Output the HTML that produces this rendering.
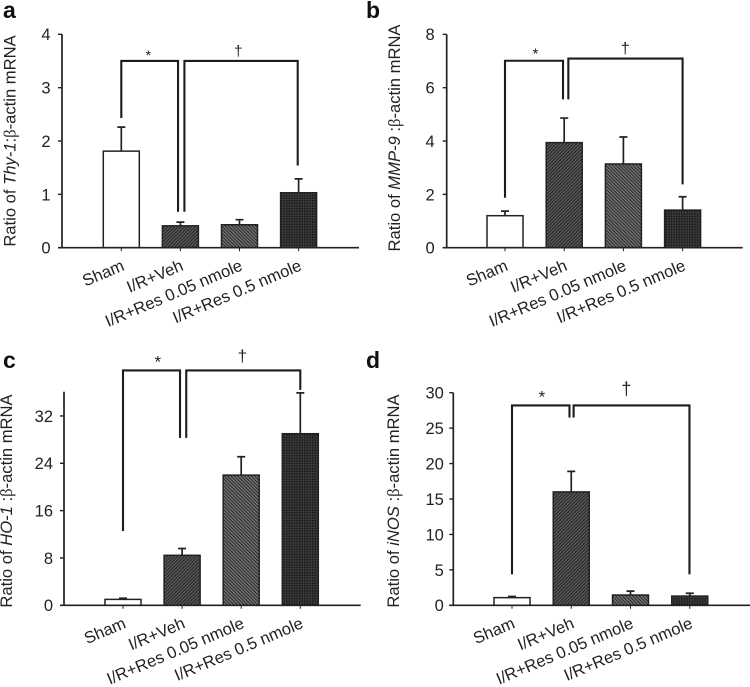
<!DOCTYPE html>
<html>
<head>
<meta charset="utf-8">
<style>
html,body{margin:0;padding:0;background:#fff;width:750px;height:687px;overflow:hidden}
svg{display:block;font-family:"Liberation Sans",sans-serif;fill:#222}
</style>
</head>
<body>
<svg id="figure" width="750" height="687" viewBox="0 0 750 687" xmlns="http://www.w3.org/2000/svg">
<defs>
<pattern id="hatch-veh" width="2.4" height="2.4" patternUnits="userSpaceOnUse" patternTransform="rotate(-45)"><rect width="2.4" height="2.4" fill="#606060"/><rect width="2.4" height="1.2" fill="#262626"/></pattern>
<pattern id="hatch-low" width="2.4" height="2.4" patternUnits="userSpaceOnUse" patternTransform="rotate(45)"><rect width="2.4" height="2.4" fill="#787878"/><rect width="2.4" height="1.1" fill="#2a2a2a"/></pattern>
<pattern id="dots-high" width="2.6" height="2.6" patternUnits="userSpaceOnUse"><rect width="2.6" height="2.6" fill="#3a3a3a"/><rect width="1.4" height="1.4" fill="#111"/></pattern>
</defs>
</svg>
<script>
// Shared categories
const categories = ['Sham', 'I/R+Veh', 'I/R+Res 0.05 nmole', 'I/R+Res 0.5 nmole'];

// Panel a: Thy-1
const aValues = [1.81, 0.41, 0.43, 1.03];
const aErrors = [2.26, 0.48, 0.525, 1.29];
const aTicks = [0, 1, 2, 3, 4];
const aStarLevels = [3.5, 3.5];
const aLegEnds = [2.43, 0.675, 0.675, 1.54];

// Panel b: MMP-9
const bValues = [1.2, 3.94, 3.14, 1.41];
const bErrors = [1.37, 4.86, 4.15, 1.91];
const bTicks = [0, 2, 4, 6, 8];
const bStarLevels = [7.01, 7.09];
const bLegEnds = [1.875, 5.56, 5.56, 2.375];

// Panel c: HO-1
const cValues = [1.0, 8.45, 22, 29];
const cErrors = [1.2, 9.6, 25.1, 35.9];
const cTicks = [0, 8, 16, 24, 32];
const cStarLevels = [39.7, 39.7];
const cLegEnds = [12.56, 28.3, 28.3, 36.4];

// Panel d: iNOS
const dValues = [1.08, 16, 1.45, 1.3];
const dErrors = [1.25, 18.9, 2.0, 1.7];
const dTicks = [0, 5, 10, 15, 20, 25, 30];
const dStarLevels = [28.2, 28.2];
const dLegEnds = [4.37, 26.5, 26.5, 4.37];

const fills = ['#fff', 'url(#hatch-veh)', 'url(#hatch-low)', 'url(#dots-high)'];
const NS = 'http://www.w3.org/2000/svg';
const root = document.getElementById('figure');

function make(tag, attrs, parent, text) {
  const el = document.createElementNS(NS, tag);
  for (const k in attrs) el.setAttribute(k, attrs[k]);
  if (text !== undefined) el.textContent = text;
  parent.appendChild(el);
  return el;
}

const panels = [
  {id:'a', gene:'Thy-1', sep:':', values:aValues, errors:aErrors, ticks:aTicks, levels:aStarLevels, legs:aLegEnds,
   axisX:62, y0:247.7, pxPerUnit:53.35, top:4, x0:121.3, step:59.1, xEnd:359,
   letterX:3, letterY:18, titleX:15.5, titleY:141, tickOff:11.5, starSize:14, daggerSize:15,
   bx:[0, 0.96, 1.068, 2.985], star:[0.458, 3.52], dagger:[1.98, 3.59]},
  {id:'b', gene:'MMP-9', sep:' :', values:bValues, errors:bErrors, ticks:bTicks, levels:bStarLevels, legs:bLegEnds,
   axisX:446.7, y0:247.7, pxPerUnit:26.67, top:8, x0:505, step:59.2, xEnd:742.7,
   letterX:366, letterY:18, titleX:400, titleY:138, tickOff:12, starSize:15, daggerSize:16,
   bx:[0, 0.98, 1.07, 3.0], star:[0.513, 7.09], dagger:[2.03, 7.29]},
  {id:'c', gene:'HO-1', sep:' :', values:cValues, errors:cErrors, ticks:cTicks, levels:cStarLevels, legs:cLegEnds,
   axisX:64, y0:605.3, pxPerUnit:5.917, top:36.1, x0:123, step:59.1, xEnd:360.7,
   letterX:3, letterY:368, titleX:12, titleY:501, tickOff:11, starSize:17, daggerSize:17,
   bx:[0, 0.965, 1.07, 3.0], star:[0.59, 40.2], dagger:[2.02, 41.2]},
  {id:'d', gene:'iNOS', sep:' :', values:dValues, errors:dErrors, ticks:dTicks, levels:dStarLevels, legs:dLegEnds,
   axisX:453.3, y0:605.3, pxPerUnit:7.087, top:30, x0:512, step:59.25, xEnd:750,
   letterX:366, letterY:368, titleX:399, titleY:501, tickOff:9.5, starSize:17, daggerSize:18,
   bx:[0, 0.97, 1.04, 2.995], star:[0.506, 28.6], dagger:[1.93, 29.7]}
];

panels.forEach(function (p) {
  const yScale = function (v) { return p.y0 - v * p.pxPerUnit; };
  const xScale = function (i) { return p.x0 + i * p.step; };
  const g = make('g', {}, root);
  
  

  const letter = make('text', {x:p.letterX, y:p.letterY, 'font-size':23, 'font-weight':'bold', fill:'#111'}, g, p.id);
  
  

  // y-axis title
  const title = make('text', {transform:'translate(' + p.titleX + ',' + p.titleY + ') rotate(-90)', 'text-anchor':'middle', 'font-size':16.6}, g);
  
  
  make('tspan', {}, title, 'Ratio of ');
  make('tspan', {'font-style':'italic'}, title, p.gene);
  make('tspan', {}, title, p.sep);
  make('tspan', {'font-family':'"Liberation Serif",serif'}, title, 'β');
  make('tspan', {}, title, '-actin mRNA');

  // bars
  p.values.forEach(function (v, i) {
    const bar = make('rect', {x:xScale(i) - 18, y:yScale(v), width:36, height:p.y0 - yScale(v), fill:fills[i], stroke:'#222', 'stroke-width':1.5}, g);
    
    
  });

  // error bars
  p.errors.forEach(function (e, i) {
    const cx = xScale(i);
    const err = make('path', {d:'M' + cx + ' ' + yScale(p.values[i]) + 'V' + yScale(e) + 'M' + (cx - 4) + ' ' + yScale(e) + 'H' + (cx + 4), fill:'none', stroke:'#222', 'stroke-width':1.7}, g);
    
    
  });

  // axes
  const yAxis = make('line', {x1:p.axisX, x2:p.axisX, y1:yScale(p.top), y2:p.y0, stroke:'#222', 'stroke-width':1.7}, g);
  
  
  const xAxis = make('line', {x1:p.axisX - 4, x2:p.xEnd, y1:p.y0, y2:p.y0, stroke:'#222', 'stroke-width':1.7}, g);
  
  

  p.ticks.forEach(function (t) {
    const mark = make('line', {x1:p.axisX - 4, x2:p.axisX, y1:yScale(t), y2:yScale(t), stroke:'#222', 'stroke-width':1.4}, g);
    
    
    const label = make('text', {x:p.axisX - p.tickOff, y:yScale(t) + 5.9, 'text-anchor':'end', 'font-size':16.5}, g, String(t));
    
    
  });

  categories.forEach(function (c, i) {
    const cx = xScale(i);
    const mark = make('line', {x1:cx, x2:cx, y1:p.y0, y2:p.y0 + 3.5, stroke:'#222', 'stroke-width':1}, g);
    
    
    const label = make('text', {transform:'translate(' + (cx + 4) + ',' + (p.y0 + 22) + ') rotate(-23)', 'text-anchor':'end', 'font-size':16.6}, g, c);
    
    
  });

  // significance brackets
  const bx = p.bx.map(xScale);
  const left = make('path', {d:'M' + bx[0] + ' ' + yScale(p.legs[0]) + 'V' + yScale(p.levels[0]) + 'H' + bx[1] + 'V' + yScale(p.legs[1]), fill:'none', stroke:'#1c1c1c', 'stroke-width':2.1}, g);
  
  
  const right = make('path', {d:'M' + bx[2] + ' ' + yScale(p.legs[2]) + 'V' + yScale(p.levels[1]) + 'H' + bx[3] + 'V' + yScale(p.legs[3]), fill:'none', stroke:'#1c1c1c', 'stroke-width':2.1}, g);
  
  

  const star = make('text', {x:xScale(p.star[0]), y:yScale(p.star[1]), 'text-anchor':'middle', 'font-size':p.starSize}, g, '*');
  
  
  const dagger = make('text', {x:xScale(p.dagger[0]), y:yScale(p.dagger[1]), 'text-anchor':'middle', 'font-size':p.daggerSize}, g, '†');
  
  
});
</script>
</body>
</html>
